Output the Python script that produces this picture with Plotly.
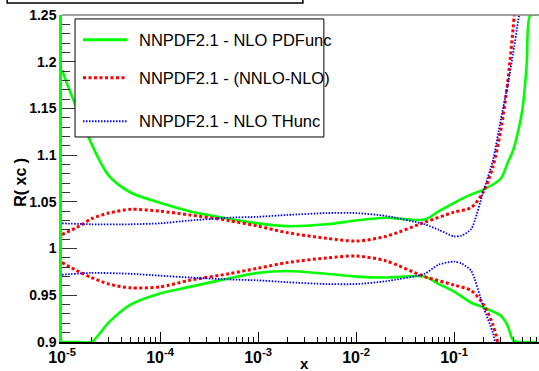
import numpy as np
import plotly.graph_objects as go

# ---- data -------------------------------------------------------------
# NNPDF2.1 NLO PDF uncertainty band (upper / lower edges)
pdf_x = [1e-5, 1.2e-5, 1.5e-5, 2e-5, 3e-5, 5e-5, 1e-4, 2e-4, 5e-4, 1e-3, 2e-3,
         5e-3, 1e-2, 2e-2, 5e-2, 0.07, 0.1, 0.15, 0.2, 0.3, 0.35, 0.4, 0.45,
         0.5, 0.55, 0.6, 0.7]
pdf_up = [1.191, 1.169, 1.144, 1.112, 1.078, 1.060, 1.049, 1.040, 1.032, 1.027,
          1.024, 1.026, 1.030, 1.033, 1.031, 1.040, 1.049, 1.058, 1.063, 1.075,
          1.091, 1.105, 1.125, 1.150, 1.195, 1.270, 1.400]
pdf_lo = [0.860, 0.870, 0.880, 0.897, 0.921, 0.940, 0.952, 0.959, 0.968, 0.974,
          0.976, 0.973, 0.970, 0.969, 0.970, 0.962, 0.954, 0.942, 0.937, 0.928,
          0.918, 0.902, 0.880, 0.860, 0.840, 0.800, 0.750]

# NNPDF2.1 (NNLO-NLO) difference band
nn_x = [1e-5, 1.5e-5, 2e-5, 3e-5, 5e-5, 1e-4, 2e-4, 5e-4, 1e-3, 2e-3, 5e-3,
        1e-2, 2e-2, 5e-2, 0.1, 0.15, 0.2, 0.25, 0.3, 0.35, 0.4, 0.45]
nn_up = [1.015, 1.024, 1.032, 1.038, 1.042, 1.040, 1.036, 1.030, 1.024, 1.017,
         1.011, 1.008, 1.013, 1.028, 1.039, 1.044, 1.061, 1.088, 1.127, 1.175,
         1.235, 1.300]
nn_lo = [0.985, 0.975, 0.969, 0.962, 0.958, 0.959, 0.966, 0.973, 0.979, 0.985,
         0.990, 0.992, 0.987, 0.970, 0.961, 0.955, 0.940, 0.918, 0.885, 0.840,
         0.800, 0.760]

# NNPDF2.1 NLO theory uncertainty band
th_x = [1e-5, 2e-5, 5e-5, 1e-4, 2e-4, 5e-4, 1e-3, 2e-3, 5e-3, 1e-2, 2e-2, 5e-2,
        0.07, 0.1, 0.12, 0.15, 0.2, 0.25, 0.3, 0.35, 0.4, 0.45, 0.5]
th_up = [1.027, 1.026, 1.026, 1.027, 1.030, 1.033, 1.034, 1.036, 1.038, 1.038,
         1.035, 1.026, 1.020, 1.013, 1.014, 1.021, 1.062, 1.095, 1.138, 1.173,
         1.208, 1.243, 1.270]
th_lo = [0.972, 0.974, 0.973, 0.971, 0.969, 0.967, 0.966, 0.964, 0.962, 0.962,
         0.965, 0.973, 0.983, 0.986, 0.984, 0.976, 0.937, 0.909, 0.870, 0.830,
         0.790, 0.750, 0.710]

legend_names = ["NNPDF2.1 - NLO PDFunc", "NNPDF2.1 - (NNLO-NLO)",
                "NNPDF2.1 - NLO THunc"]

x_ticks = [1e-5, 1e-4, 1e-3, 1e-2, 1e-1]
x_ticktext = ["10<sup>-5</sup>", "10<sup>-4</sup>", "10<sup>-3</sup>",
              "10<sup>-2</sup>", "10<sup>-1</sup>"]
y_ticks = [0.9, 0.95, 1.0, 1.05, 1.1, 1.15, 1.2, 1.25]
y_ticktext = ["0.9", "0.95", "1", "1.05", "1.1", "1.15", "1.2", "1.25"]

Y_MIN, Y_MAX = 0.9, 1.25
X_LOG_MIN, X_LOG_MAX = -5.0, -0.133

GREEN = "#00ff00"
RED = "#ff0000"
BLUE = "#0000ff"
FONT = "Liberation Sans, Arial, Helvetica, sans-serif"

# ---- figure -------------------------------------------------------------
fig = go.Figure()

# the PDF band is drawn histogram-style: values beyond the frame stay on it
for ys in (pdf_up, pdf_lo):
    fig.add_trace(go.Scatter(
        x=pdf_x, y=np.clip(ys, Y_MIN, Y_MAX), mode="lines",
        line=dict(color=GREEN, width=2.6, shape="spline", smoothing=0.8),
        showlegend=False, hoverinfo="skip"))

for ys in (nn_up, nn_lo):
    fig.add_trace(go.Scatter(
        x=nn_x, y=ys, mode="lines",
        line=dict(color=RED, width=3, dash="3px,2.5px", shape="spline",
                  smoothing=0.8),
        showlegend=False, hoverinfo="skip"))

for ys in (th_up, th_lo):
    fig.add_trace(go.Scatter(
        x=th_x, y=ys, mode="lines",
        line=dict(color=BLUE, width=1.8, dash="1.5px,1.5px", shape="spline",
                  smoothing=0.6),
        showlegend=False, hoverinfo="skip"))

# minor ticks at 2..9 of each decade
minor_vals = [m * 10.0 ** e for e in range(-5, 0) for m in range(2, 10)]

fig.update_xaxes(
    type="log", range=[X_LOG_MIN, X_LOG_MAX],
    tickvals=x_ticks, ticktext=x_ticktext,
    ticks="inside", ticklen=10, tickwidth=1, tickcolor="black",
    minor=dict(tickvals=minor_vals, ticks="inside", ticklen=5,
               tickwidth=1, tickcolor="black"),
    showline=True, linecolor="black", linewidth=1.5,
    showgrid=False, zeroline=False,
    tickfont=dict(family=FONT, size=16, color="black", weight="bold"),
)
fig.update_yaxes(
    range=[Y_MIN, Y_MAX],
    tickvals=y_ticks, ticktext=y_ticktext,
    ticks="inside", ticklen=15, tickwidth=1, tickcolor="#333333",
    minor=dict(dtick=0.01, ticks="inside", ticklen=8, tickwidth=1,
               tickcolor="#333333"),
    showline=True, linecolor=GREEN, linewidth=2.5,
    showgrid=False, zeroline=False,
    tickfont=dict(family=FONT, size=14, color="black", weight="bold"),
)

shapes = []
# frame top edge
shapes.append(dict(type="line", xref="paper", yref="paper", x0=0, x1=1,
                   y0=1, y1=1, line=dict(color="#808080", width=1.5)))
# lower edge of the title pad
shapes.append(dict(type="rect", xref="paper", yref="paper",
                   x0=-0.115, x1=0.505, y0=1.037, y1=1.2,
                   line=dict(color="black", width=1.5)))
# legend box
shapes.append(dict(type="rect", xref="paper", yref="paper", layer="above",
                   x0=0.0273, x1=0.549, y0=0.627, y1=0.988,
                   fillcolor="white", line=dict(color="black", width=1)))

legend_rows = [0.924, 0.808, 0.675]
legend_styles = [dict(color=GREEN, width=3),
                 dict(color=RED, width=3, dash="3px,2.5px"),
                 dict(color=BLUE, width=2, dash="1.5px,1.5px")]
annotations = []
for name, yy, st in zip(legend_names, legend_rows, legend_styles):
    shapes.append(dict(type="line", xref="paper", yref="paper", layer="above",
                       x0=0.044, x1=0.136, y0=yy, y1=yy, line=st))
    annotations.append(dict(text=name, xref="paper", yref="paper",
                            x=0.157, y=yy, xanchor="left", yanchor="middle",
                            showarrow=False,
                            font=dict(family=FONT, size=16.5, color="black")))

# axis titles
annotations.append(dict(text="<b>R( xc )</b>", xref="paper", yref="paper",
                        x=-0.086, y=0.49, textangle=-90, showarrow=False,
                        xanchor="center", yanchor="middle",
                        font=dict(family=FONT, size=16, color="black")))
annotations.append(dict(text="<b>x</b>", xref="paper", yref="paper",
                        x=0.509, y=-0.066, showarrow=False,
                        xanchor="center", yanchor="middle",
                        font=dict(family=FONT, size=15, color="black")))

fig.update_layout(
    width=539, height=371,
    margin=dict(l=62, r=0, t=15, b=29),
    paper_bgcolor="white", plot_bgcolor="white",
    shapes=shapes, annotations=annotations,
    showlegend=False,
)

fig.write_html("out.html")
